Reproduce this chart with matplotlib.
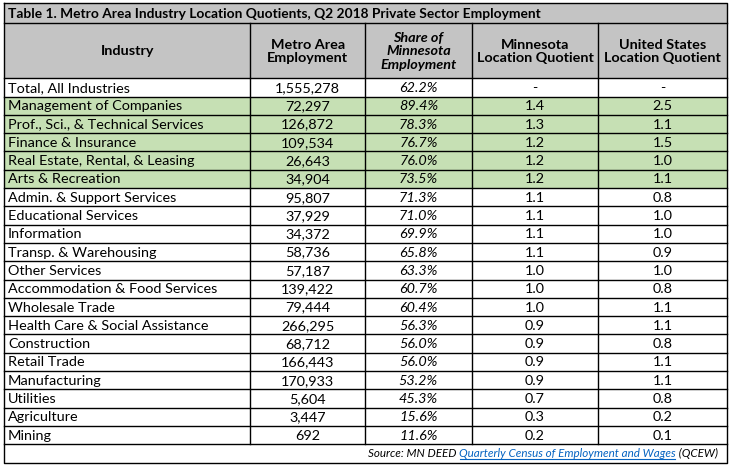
import matplotlib
matplotlib.use("Agg")
import matplotlib.pyplot as plt
from matplotlib.patches import Rectangle

plt.rcParams['font.family'] = ['Lato', 'DejaVu Sans']

# Données du tableau
titre = "Table 1. Metro Area Industry Location Quotients, Q2 2018 Private Sector Employment"
entetes = ["Industry", "Metro Area\nEmployment", "Share of\nMinnesota\nEmployment",
           "Minnesota\nLocation Quotient", "United States\nLocation Quotient"]
industries = ["Total, All Industries", "Management of Companies", "Prof., Sci., & Technical Services",
              "Finance & Insurance", "Real Estate, Rental, & Leasing", "Arts & Recreation",
              "Admin. & Support Services", "Educational Services", "Information",
              "Transp. & Warehousing", "Other Services", "Accommodation & Food Services",
              "Wholesale Trade", "Health Care & Social Assistance", "Construction",
              "Retail Trade", "Manufacturing", "Utilities", "Agriculture", "Mining"]
emploi = [1555278, 72297, 126872, 109534, 26643, 34904, 95807, 37929, 34372, 58736,
          57187, 139422, 79444, 266295, 68712, 166443, 170933, 5604, 3447, 692]
part_mn = [62.2, 89.4, 78.3, 76.7, 76.0, 73.5, 71.3, 71.0, 69.9, 65.8,
           63.3, 60.7, 60.4, 56.3, 56.0, 56.0, 53.2, 45.3, 15.6, 11.6]
lq_mn = [None, 1.4, 1.3, 1.2, 1.2, 1.2, 1.1, 1.1, 1.1, 1.1,
         1.0, 1.0, 1.0, 0.9, 0.9, 0.9, 0.9, 0.7, 0.3, 0.2]
lq_us = [None, 2.5, 1.1, 1.5, 1.0, 1.1, 0.8, 1.0, 1.0, 0.9,
         1.0, 0.8, 1.1, 1.1, 0.8, 1.1, 1.1, 0.8, 0.2, 0.1]
surligne = [1, 2, 3, 4, 5]
source_debut = "Source: MN DEED "
source_lien = "Quarterly Census of Employment and Wages"
source_fin = " (QCEW)"

# Mise en page (pixels)
cols = [4, 250.5, 365, 472, 598, 727]
y_haut = 3.5
y_titre = 23.5
y_entete = 78.3
h = 18.3
gris = "#c4c4c4"
vert = "#c6e0b4"
fs = 10.4

fig = plt.figure(figsize=(7.29, 4.69), dpi=100)
ax = fig.add_axes([0, 0, 1, 1])
ax.set_xlim(0, 729)
ax.set_ylim(469, 0)
ax.axis('off')

n = len(industries)
y_bas = y_entete + (n + 1) * h

# Fonds
ax.add_patch(Rectangle((cols[0], y_haut), cols[-1] - cols[0], y_entete - y_haut, color=gris, lw=0))
for i in surligne:
    ax.add_patch(Rectangle((cols[0], y_entete + i * h), cols[-1] - cols[0], h, color=vert, lw=0))

# Lignes
lw = 1.0
ax.plot([cols[0], cols[-1], cols[-1], cols[0], cols[0]], [y_haut, y_haut, y_bas, y_bas, y_haut],
        color="black", lw=lw)
ax.plot([cols[0], cols[-1]], [y_titre, y_titre], color="black", lw=lw)
for k in range(n + 1):
    y = y_entete + k * h
    ax.plot([cols[0], cols[-1]], [y, y], color="black", lw=lw)
for x in cols[1:-1]:
    ax.plot([x, x], [y_titre, y_entete + n * h], color="black", lw=lw)

# Titre
ax.text(8, (y_haut + y_titre) / 2 + 0.5, titre, fontsize=9.9, fontweight="bold",
        ha="left", va="center")

# Entêtes
for j, e in enumerate(entetes):
    xc = (cols[j] + cols[j + 1]) / 2
    style = "italic" if j == 2 else "normal"
    ax.text(xc, (y_titre + y_entete) / 2 + 0.5, e, fontsize=fs, fontweight="bold", style=style,
            ha="center", va="center", linespacing=1.15)

# Lignes de données
for i in range(n):
    yc = y_entete + i * h + h / 2 + 0.5
    ax.text(8, yc, industries[i], fontsize=fs, ha="left", va="center")
    ax.text((cols[1] + cols[2]) / 2, yc, f"{emploi[i]:,}", fontsize=fs, ha="center", va="center")
    ax.text((cols[2] + cols[3]) / 2, yc, f"{part_mn[i]:.1f}%", fontsize=fs, style="italic",
            ha="center", va="center")
    a = "-" if lq_mn[i] is None else f"{lq_mn[i]:.1f}"
    b = "-" if lq_us[i] is None else f"{lq_us[i]:.1f}"
    ax.text((cols[3] + cols[4]) / 2, yc, a, fontsize=fs, ha="center", va="center")
    ax.text((cols[4] + cols[5]) / 2, yc, b, fontsize=fs, ha="center", va="center")

# Source (alignée à droite)
fig.canvas.draw()
rend = fig.canvas.get_renderer()
ys = y_entete + n * h + h / 2 + 0.5
fs_src = 8.4
t3 = ax.text(718, ys, source_fin, fontsize=fs_src, style="italic", ha="right", va="center")
bb3 = t3.get_window_extent(rend)
x3 = ax.transData.inverted().transform((bb3.x0, 0))[0]
t2 = ax.text(x3, ys, source_lien, fontsize=fs_src, style="italic", ha="right", va="center",
             color="#0563c1")
bb2 = t2.get_window_extent(rend)
x2 = ax.transData.inverted().transform((bb2.x0, 0))[0]
ax.plot([x2 + 0.5, x3 - 1], [ys + 5.5, ys + 5.5], color="#0563c1", lw=0.8)
ax.text(x2, ys, source_debut, fontsize=fs_src, style="italic", ha="right", va="center")

fig.savefig("out.png", dpi=100)
